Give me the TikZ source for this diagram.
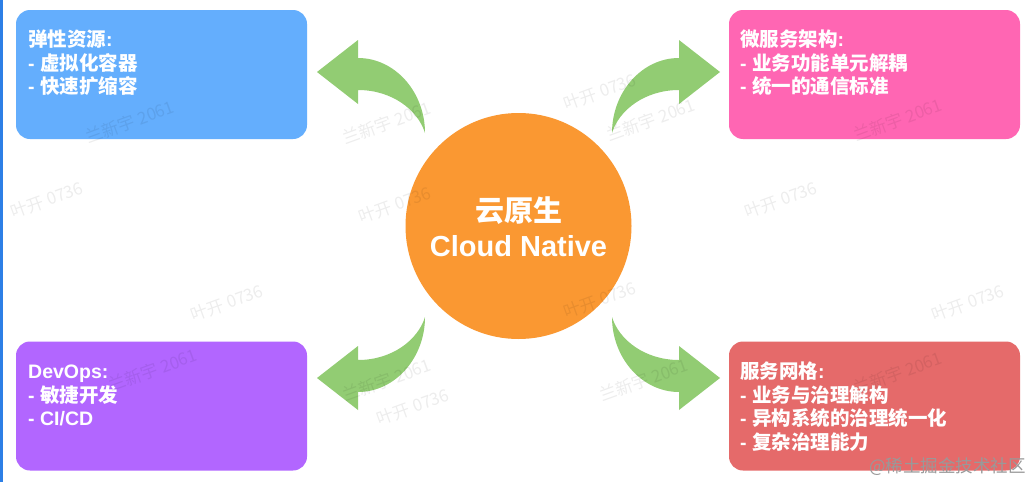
\documentclass[tikz,border=0pt]{standalone}
\usepackage{fontspec}
\setmainfont{Liberation Sans}
\newfontfamily\cjk{Noto Sans CJK SC}
\newcommand\zh[1]{{\cjk\bfseries #1}}
\definecolor{cblue}{HTML}{64AEFD}
\definecolor{cpink}{HTML}{FF66B3}
\definecolor{cpurple}{HTML}{B266FF}
\definecolor{cred}{HTML}{E56A6A}
\definecolor{corange}{HTML}{FA9832}
\definecolor{cgreen}{HTML}{92CC73}
\definecolor{cbar}{HTML}{2D7FE6}
\tikzset{
  box/.style={rounded corners=14pt, minimum width=291pt, minimum height=129pt, inner sep=0pt, draw=none},
  boxtext/.style={anchor=north west, align=left, text=white, inner sep=0pt,
    font=\bfseries\fontsize{19.5}{23.5}\selectfont},
  bigarrow/.style={fill=cgreen, draw=none},
  wm/.style={font=\cjk\fontsize{17}{17}\selectfont, text=black, opacity=0.07, rotate=20, inner sep=0pt}
}
\begin{document}
\begin{tikzpicture}[x=1pt,y=-1pt]
\useasboundingbox (0,0) rectangle (1031,482);
\fill[white] (0,0) rectangle (1031,482);
\fill[cbar] (0,0) rectangle (2.5,482);

% boxes
\node[box, fill=cblue]   (b1) at (161.5,74.5) {};
\node[box, fill=cpink]   (b2) at (874.5,74.5) {};
\node[box, fill=cpurple] (b3) at (161.5,406) {};
\node[box, fill=cred]    (b4) at (874.5,406) {};

\node[boxtext] (t1) at (28,30) {\zh{弹性资源}:\\- \zh{虚拟化容器}\\- \zh{快速扩缩容}};
\node[boxtext] (t2) at (740,30) {\zh{微服务架构}:\\- \zh{业务功能单元解耦}\\- \zh{统一的通信标准}};
\node[boxtext] (t3) at (28,365) {DevOps:\\- \zh{敏捷开发}\\- CI/CD};
\node[boxtext] (t4) at (740,362) {\zh{服务网格}:\\- \zh{业务与治理解构}\\- \zh{异构系统的治理统一化}\\- \zh{复杂治理能力}};

% centre
\node[circle, fill=corange, minimum size=226pt, inner sep=0pt] (c) at (518.5,226) {};
\node[align=center, text=white, inner sep=0pt, font=\bfseries\fontsize{29}{35}\selectfont] (ct) at (518.5,226.5) {\zh{云原生}\\Cloud Native};

% arrows
\fill[bigarrow] (317,72) -- (358,40) -- (358,58) .. controls (395,58) and (425,92) .. (425,133)
  .. controls (418,110) and (392,90) .. (358,90) -- (358,104) -- cycle;
\fill[bigarrow] (720,72) -- (679,40) -- (679,58) .. controls (642,58) and (612,92) .. (612,133)
  .. controls (619,110) and (645,90) .. (679,90) -- (679,104) -- cycle;
\fill[bigarrow] (317,378) -- (358,410) -- (358,392) .. controls (395,392) and (425,358) .. (425,317)
  .. controls (418,340) and (392,360) .. (358,360) -- (358,346) -- cycle;
\fill[bigarrow] (720,378) -- (679,410) -- (679,392) .. controls (642,392) and (612,358) .. (612,317)
  .. controls (619,340) and (645,360) .. (679,360) -- (679,346) -- cycle;

% watermarks
\node[wm] (w1) at (130,122) {兰新宇 2061};
\node[wm] (w2) at (387,123) {兰新宇 2061};
\node[wm] (w3) at (651,120) {兰新宇 2061};
\node[wm] (w4) at (898,120) {兰新宇 2061};
\node[wm] (w5) at (47,200) {叶开 0736};
\node[wm] (w6) at (395,205) {叶开 0736};
\node[wm] (w7) at (781,200) {叶开 0736};
\node[wm] (w8) at (600,92) {叶开 0736};
\node[wm] (w9) at (227,303) {叶开 0736};
\node[wm] (w10) at (968,303) {叶开 0736};
\node[wm] (w11) at (600,300) {叶开 0736};
\node[wm] (w12) at (153,370) {兰新宇 2061};
\node[wm] (w13) at (387,380) {兰新宇 2061};
\node[wm] (w14) at (644,380) {兰新宇 2061};
\node[wm] (w15) at (898,373) {兰新宇 2061};
\node[wm] (w16) at (413,407) {叶开 0736};

\node[anchor=east, inner sep=0pt, text=black!40, font=\cjk\fontsize{17.5}{17.5}\selectfont] (credit) at (1026,467) {@稀土掘金技术社区};
\end{tikzpicture}
\end{document}
